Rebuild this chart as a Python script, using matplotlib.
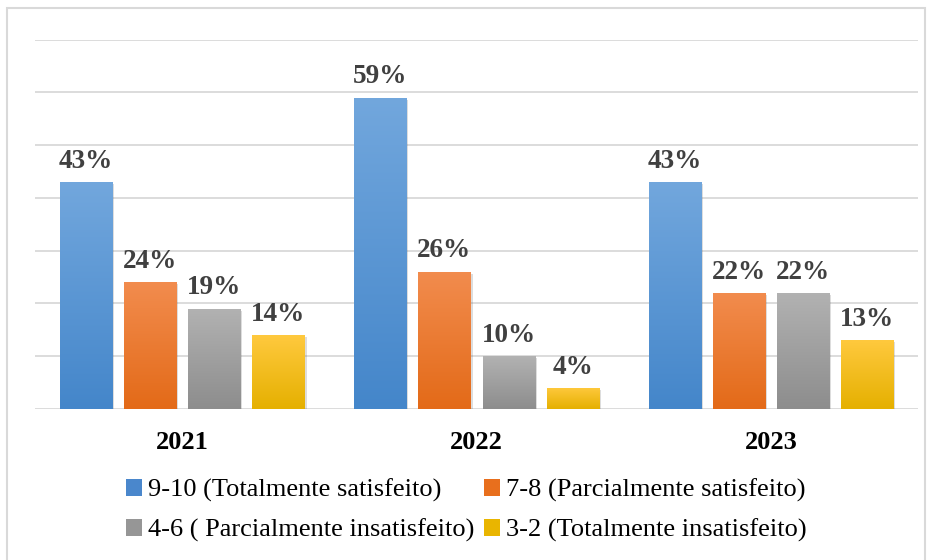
import numpy as np
import matplotlib
matplotlib.use("Agg")
from matplotlib import pyplot as plt
from matplotlib.patches import Patch, Rectangle
from matplotlib.colors import LinearSegmentedColormap
import matplotlib.patheffects as pe

# data
years = ["2021", "2022", "2023"]
series = [
    "9-10 (Totalmente satisfeito)",
    "7-8 (Parcialmente satisfeito)",
    "4-6 ( Parcialmente insatisfeito)",
    "3-2 (Totalmente insatisfeito)",
]
v_9_10 = [43, 59, 43]
v_7_8 = [24, 26, 22]
v_4_6 = [19, 10, 22]
v_3_2 = [14, 4, 13]
values = [v_9_10, v_7_8, v_4_6, v_3_2]

# (top colour, bottom colour, legend colour)
colours = [
    ("#72a7dd", "#4486ca", "#4a87cc"),
    ("#f28c4e", "#e36a18", "#e86f1d"),
    ("#b2b2b2", "#8d8d8d", "#969696"),
    ("#ffc93e", "#e5b000", "#e9b500"),
]

plt.rcParams['font.family'] = ['Liberation Serif', 'DejaVu Serif']

fig = plt.figure(figsize=(9.35, 5.6), dpi=100)
ax = fig.add_axes([35 / 935, 1 - 409 / 560, (918 - 35) / 935, (409 - 39.5) / 560])

x = np.arange(len(years))
width = 0.177
step = 0.218
offsets = (np.arange(4) - 1.5) * step

grad = np.linspace(1, 0, 256).reshape(-1, 1)

for i, vals in enumerate(values):
    top, bot, _ = colours[i]
    cmap = LinearSegmentedColormap.from_list("g%d" % i, [bot, top])
    bars = ax.bar(x + offsets[i], vals, width, color=bot, zorder=3,
                  path_effects=[pe.SimplePatchShadow(offset=(1.5, -1.5), alpha=0.2,
                                                     shadow_rgbFace="#555555"),
                                pe.Normal()])
    for b, v in zip(bars, vals):
        x0 = b.get_x()
        im = ax.imshow(grad, cmap=cmap, extent=[x0, x0 + width, 0, v],
                       aspect='auto', zorder=4, interpolation='bicubic')
        im.set_clip_path(b)
        ax.annotate(f"{v}%", (x0 + width / 2, v), xytext=(0, 6),
                    textcoords="offset points", ha="center", va="bottom",
                    fontsize=19.5, fontweight="bold", color="#404040", zorder=5)

ax.set_xlim(-0.5, 2.5)
ax.set_ylim(0, 70)
ax.set_yticks(np.arange(0, 71, 10))
ax.yaxis.grid(True, color="#d9d9d9", linewidth=1.3, zorder=0)
ax.set_axisbelow(True)
ax.tick_params(left=False, bottom=False, labelleft=False)
ax.set_xticks(x)
ax.set_xticklabels(years, fontsize=19, fontweight="bold", color="black")
ax.tick_params(axis="x", pad=12)
for s in ax.spines.values():
    s.set_visible(False)

handles = [Patch(facecolor=c[2]) for c in colours]
order = [0, 2, 1, 3]
fig.legend([handles[k] for k in order], [series[k] for k in order],
           ncol=2, loc="upper left", bbox_to_anchor=(126 / 935, 1 - 479 / 560),
           frameon=False, fontsize=19, handlelength=0.6, handleheight=0.6,
           handletextpad=0.25, columnspacing=0.35, labelspacing=0.62,
           borderaxespad=0, borderpad=0)

fig.add_artist(Rectangle((7 / 935, -0.01), (925 - 7) / 935, 1 - 8 / 560 + 0.01,
                         transform=fig.transFigure, fill=False,
                         edgecolor="#d9d9d9", linewidth=1.5))

fig.savefig("out.png", dpi=100)
